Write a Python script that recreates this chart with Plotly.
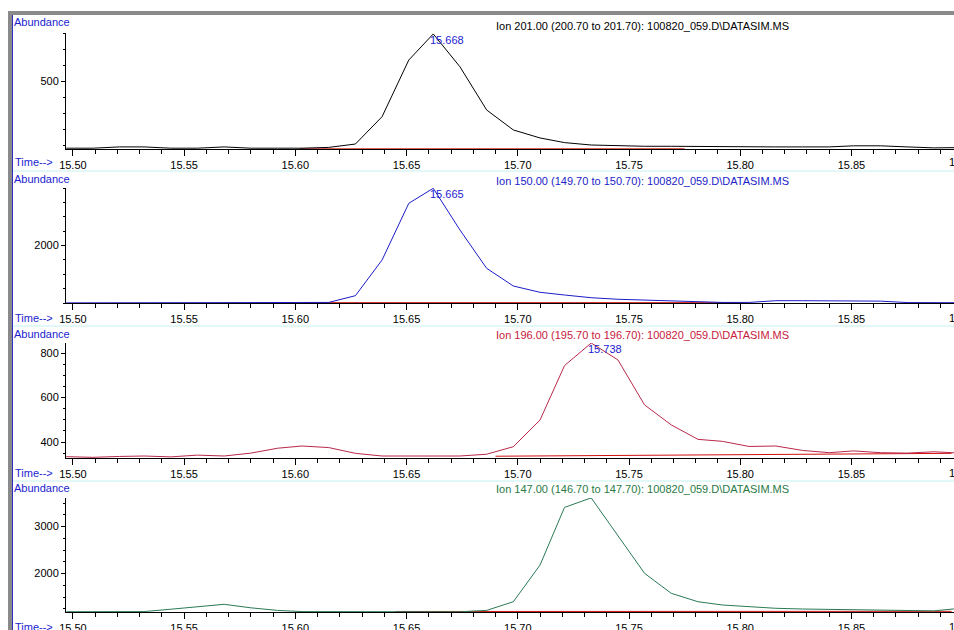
import plotly.graph_objects as go

# ---------------- data ----------------
times = [15.497, 15.509, 15.521, 15.532, 15.544, 15.556, 15.568, 15.580, 15.592, 15.603,
         15.615, 15.627, 15.639, 15.651, 15.662, 15.674, 15.686, 15.698, 15.710, 15.721,
         15.733, 15.745, 15.757, 15.769, 15.781, 15.792, 15.804, 15.816, 15.828, 15.840,
         15.851, 15.863, 15.875, 15.887, 15.899]

ion201 = [80, 80, 88, 88, 80, 80, 88, 80, 80, 80,
          85, 106, 277, 631, 794, 589, 319, 194, 144, 115,
          100, 95, 92, 92, 90, 88, 88, 88, 88, 88,
          95, 95, 88, 82, 84]
ion150 = [5, 5, 5, 5, 5, 5, 5, 5, 5, 5,
          20, 254, 1496, 3468, 3990, 2540, 1207, 591, 372, 278,
          184, 130, 100, 70, 65, 20, 20, 80, 80, 75,
          70, 65, 15, 10, 10]
ion196 = [334, 331, 335, 337, 333, 341, 337, 350, 372, 382,
          375, 349, 337, 337, 337, 337, 345, 379, 499, 744,
          846, 770, 567, 477, 412, 403, 380, 382, 362, 352,
          360, 352, 350, 356, 350]
ion147 = [1187, 1187, 1187, 1190, 1240, 1300, 1345, 1270, 1215, 1190,
          1187, 1187, 1180, 1180, 1185, 1185, 1215, 1400, 2181, 3409,
          3613, 2800, 2004, 1579, 1400, 1330, 1294, 1260, 1245, 1235,
          1225, 1220, 1215, 1205, 1260]

# integration baselines (start/end time, start/end abundance)
base201_t = [15.602, 15.775]
base201_v = [76, 76]
base150_t = [15.603, 15.800]
base150_v = [12, 12]
base196_t = [15.690, 15.895]
base196_v = [336, 349]
base147_t = [15.645, 15.895]
base147_v = [1192, 1195]

peak_labels = ["15.668", "15.665", "15.738", "15.735"]
titles = ["Ion 201.00 (200.70 to 201.70): 100820_059.D\\DATASIM.MS",
          "Ion 150.00 (149.70 to 150.70): 100820_059.D\\DATASIM.MS",
          "Ion 196.00 (195.70 to 196.70): 100820_059.D\\DATASIM.MS",
          "Ion 147.00 (146.70 to 147.70): 100820_059.D\\DATASIM.MS"]
y_tickvals = [[500], [2000], [400, 600, 800], [2000, 3000]]
y_minor = [100, 500, 50, 250]
y_ranges = [[75, 800], [0, 4000], [328, 846], [1181, 3610]]
cut_tick_label = "15.90"

series = [ion201, ion150, ion196, ion147]
bases = [(base201_t, base201_v), (base150_t, base150_v),
         (base196_t, base196_v), (base147_t, base147_v)]
line_colors = ["#000000", "#1c1cc8", "#b8284a", "#2a7a55"]
title_colors = ["#000000", "#1c1cc8", "#c8203c", "#2a7a45"]

# ---------------- layout geometry (pixels) ----------------
W, H = 954, 630
panel_px = [(33, 149), (188, 303), (343, 458), (498, 612)]   # axis top / bottom
abund_py = [22, 179, 334, 488]
title_py = [26, 181, 335, 489]
time_py = [162, 318, 473, 627]
sep_py = [171, 326, 481]
x_left_px = 66
x_range = [15.4969, 15.8961]
FONT = "Liberation Sans, Arial"

def py2paper(py):
    return 1 - py / H

fig = go.Figure()
annotations = []
shapes = []
layout_axes = {}

for i in range(4):
    xa = "x" if i == 0 else f"x{i+1}"
    ya = "y" if i == 0 else f"y{i+1}"
    xkey = "xaxis" if i == 0 else f"xaxis{i+1}"
    ykey = "yaxis" if i == 0 else f"yaxis{i+1}"

    # integration baseline
    bt, bv = bases[i]
    fig.add_trace(go.Scatter(x=bt, y=bv, mode="lines", xaxis=xa, yaxis=ya,
                             line=dict(color="#d01010", width=1), hoverinfo="skip",
                             showlegend=False))
    # chromatogram
    fig.add_trace(go.Scatter(x=times, y=series[i], mode="lines", xaxis=xa, yaxis=ya,
                             line=dict(color=line_colors[i], width=1),
                             showlegend=False))

    top, bot = panel_px[i]
    layout_axes[xkey] = dict(
        domain=[x_left_px / W, 1], range=x_range, anchor=ya, automargin=False,
        showline=True, linecolor="black", linewidth=1,
        ticks="outside", ticklen=6, tickcolor="black", tickwidth=1,
        tick0=15.5, dtick=0.05, tickformat=".2f",
        minor=dict(ticks="outside", ticklen=4, tickcolor="black", dtick=0.01, tick0=15.5),
        showgrid=False, zeroline=False,
        tickfont=dict(family=FONT, size=11, color="black"),
    )
    layout_axes[ykey] = dict(
        domain=[py2paper(bot), py2paper(top)], range=y_ranges[i], anchor=xa, automargin=False,
        showline=True, linecolor="black", linewidth=1,
        ticks="outside", ticklen=4, tickcolor="black",
        tickmode="array", tickvals=y_tickvals[i],
        minor=dict(ticks="outside", ticklen=2, tickcolor="black",
                   tickmode="linear", tick0=0, dtick=y_minor[i]),
        showgrid=False, zeroline=False,
        tickfont=dict(family=FONT, size=11, color="black"),
    )

    # peak apex label
    vals = series[i]
    k = vals.index(max(vals))
    annotations.append(dict(x=times[k], y=vals[k], xref=xa, yref=ya,
                            text=peak_labels[i], showarrow=False,
                            xanchor="left", yanchor="top", xshift=-5, yshift=2,
                            font=dict(family=FONT, size=11, color="#1c1cd0")))
    # ion title
    annotations.append(dict(x=494 / W, y=py2paper(title_py[i]), xref="paper", yref="paper",
                            text=titles[i], showarrow=False, xanchor="left", yanchor="middle",
                            font=dict(family=FONT, size=11, color=title_colors[i])))
    # Abundance label
    annotations.append(dict(x=12 / W, y=py2paper(abund_py[i]), xref="paper", yref="paper",
                            text="Abundance", showarrow=False, xanchor="left", yanchor="middle",
                            font=dict(family=FONT, size=11, color="#1c1cd0")))
    # Time--> label
    annotations.append(dict(x=13 / W, y=py2paper(time_py[i]), xref="paper", yref="paper",
                            text="Time-->", showarrow=False, xanchor="left", yanchor="middle",
                            font=dict(family=FONT, size=11, color="#1c1cd0")))
    # partially visible 15.90 tick label at the right edge
    annotations.append(dict(x=(x_left_px + (15.90 - x_range[0]) / (x_range[1] - x_range[0]) * (W - x_left_px)) / W,
                            y=py2paper(time_py[i]), xref="paper", yref="paper",
                            text=cut_tick_label, showarrow=False, xanchor="center", yanchor="middle",
                            font=dict(family=FONT, size=11, color="black")))

# window frame decorations
shapes.append(dict(type="rect", xref="paper", yref="paper", x0=8 / W, x1=1,
                   y0=py2paper(15), y1=py2paper(11), fillcolor="#8a8a8a", line=dict(width=0)))
shapes.append(dict(type="rect", xref="paper", yref="paper", x0=8 / W, x1=12 / W,
                   y0=0, y1=py2paper(11), fillcolor="#8a8a8a", line=dict(width=0)))
shapes.append(dict(type="line", xref="paper", yref="paper", x0=12.5 / W, x1=12.5 / W,
                   y0=0, y1=py2paper(15), line=dict(color="#3030c0", width=1)))
for s in sep_py:
    shapes.append(dict(type="line", xref="paper", yref="paper", x0=13 / W, x1=1,
                       y0=py2paper(s), y1=py2paper(s), line=dict(color="#c6f2f2", width=1)))

fig.update_layout(
    width=W, height=H,
    margin=dict(l=0, r=0, t=0, b=0, autoexpand=False),
    paper_bgcolor="white", plot_bgcolor="white",
    annotations=annotations, shapes=shapes,
    showlegend=False,
    **layout_axes,
)

fig.write_html("out.html",
               config={"displayModeBar": False},
               post_script="document.body.style.margin='0px';document.body.style.overflow='hidden';")
